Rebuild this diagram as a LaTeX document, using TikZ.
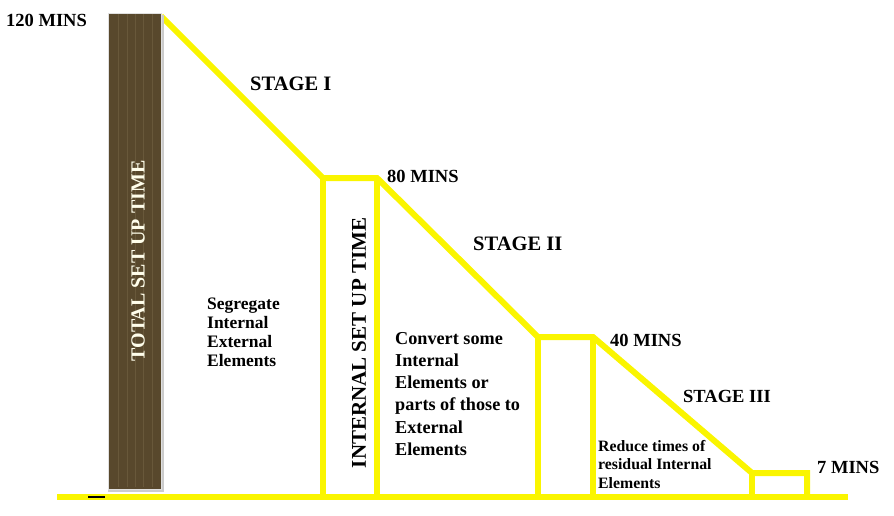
\documentclass[tikz,border=0pt]{standalone}
\usepackage{fontspec}
\setmainfont{Liberation Serif}
\definecolor{yel}{RGB}{250,245,0}
\definecolor{barbrown}{RGB}{88,72,44}
\definecolor{barstripe}{RGB}{104,88,58}
\tikzset{
  yl/.style={draw=yel, line width=6pt, line join=miter},
  lbl/.style={font=\bfseries\fontsize{18.5}{20}\selectfont, inner sep=0pt, anchor=base west},
  stagelbl/.style={font=\bfseries\fontsize{20.5}{22}\selectfont, inner sep=0pt, anchor=base west},
  blocktxt/.style={inner sep=0pt, anchor=north west, align=left},
  vertlbl/.style={font=\bfseries\fontsize{20}{22}\selectfont, inner sep=0pt, rotate=90}
}
\begin{document}
\begin{tikzpicture}[x=1pt,y=-1pt]
\useasboundingbox (0,0) rectangle (894,515);
% corner coordinates
\coordinate (g0) at (57,497);
\coordinate (g1) at (848,497);
\coordinate (top) at (161,16);
\coordinate (a1) at (323,178);
\coordinate (a2) at (377,178);
\coordinate (b1) at (538,337);
\coordinate (b2) at (593,337);
\coordinate (c1) at (752,473);
\coordinate (c2) at (807,473);
\coordinate (a1g) at (323,497);
\coordinate (a2g) at (377,497);
\coordinate (b1g) at (538,497);
\coordinate (b2g) at (593,497);
\coordinate (c1g) at (752,497);
\coordinate (c2g) at (807,497);
% yellow staircase
\draw[yl] (g0) -- (g1);
\draw[yl] (top) -- (a1) -- (a2) -- (b1) -- (b2) -- (c1) -- (c2) -- (c2g);
\draw[yl] (a1) -- (a1g);
\draw[yl] (a2) -- (a2g);
\draw[yl] (b1) -- (b1g);
\draw[yl] (b2) -- (b2g);
\draw[yl] (c1) -- (c1g);
% total set up time bar
\fill[black!20] (108,15) rectangle (164,492);
\node[draw=black!12, line width=1.2pt, fill=barbrown, minimum width=53pt, minimum height=476pt, inner sep=0pt, anchor=north west] (bar) at (107.5,12.5) {};
\foreach \xx in {118,127,135,143,152}
  \draw[barstripe, line width=0.8pt] (\xx,14) -- (\xx,487);
\node[vertlbl, text=white!92!yellow] (total) at (138,261) {TOTAL SET UP TIME};
\draw[black, line width=1.6pt] (88,497) coordinate (d0) -- (105,497) coordinate (d1);
% labels
\node[lbl] (m120) at (6,26) {120 MINS};
\node[stagelbl] (s1) at (250,90) {STAGE I};
\node[lbl] (m80) at (387,182) {80 MINS};
\node[stagelbl] (s2) at (473,250) {STAGE II};
\node[lbl] (m40) at (610,346) {40 MINS};
\node[lbl, font=\bfseries\fontsize{18.5}{20}\selectfont] (s3) at (683,402) {STAGE III};
\node[lbl] (m7) at (817,473) {7 MINS};
\node[vertlbl, font=\bfseries\fontsize{21}{22}\selectfont] (internal) at (359,343) {INTERNAL SET UP TIME};
\node[blocktxt, font=\bfseries\fontsize{17.5}{19}\selectfont] (seg) at (207,298) {Segregate\\Internal\\External\\Elements};
\node[blocktxt, font=\bfseries\fontsize{18.2}{22.2}\selectfont] (conv) at (395,332) {Convert some\\Internal\\Elements or\\parts of those to\\External\\Elements};
\node[blocktxt, font=\bfseries\fontsize{15.8}{18.5}\selectfont] (red) at (598,440) {Reduce times of\\residual Internal\\Elements};
\end{tikzpicture}
\end{document}
